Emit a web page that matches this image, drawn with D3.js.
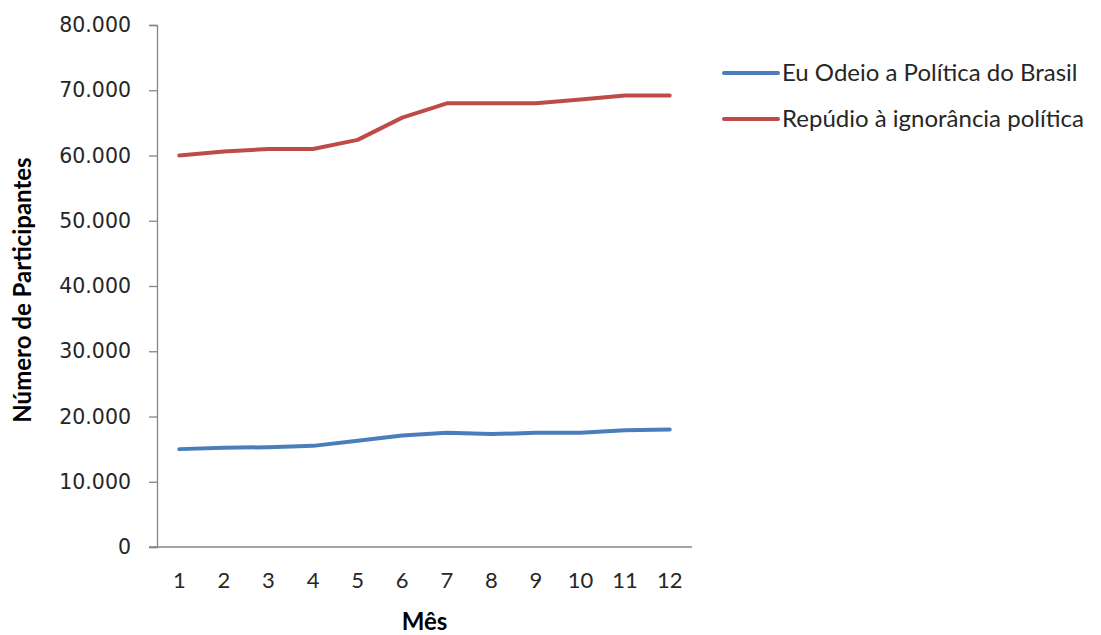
<!DOCTYPE html>
<html>
<head>
<meta charset="utf-8">
<script src="https://cdn.jsdelivr.net/npm/d3@7"></script>
<style>
  html, body { margin: 0; padding: 0; background: #fff; }
  svg { display: block; }
</style>
</head>
<body>
<svg id="chart" width="1101" height="635"></svg>
<script>
// Monthly participant counts for two groups
const months = ["1", "2", "3", "4", "5", "6", "7", "8", "9", "10", "11", "12"];
const odeioValues = [15000, 15200, 15300, 15500, 16300, 17100, 17500, 17300, 17500, 17500, 17900, 18000];
const repudioValues = [60000, 60600, 61000, 61000, 62400, 65800, 68000, 68000, 68000, 68600, 69200, 69200];
const seriesNames = ["Eu Odeio a Política do Brasil", "Repúdio à ignorância política"];
const seriesColors = ["#4A7EBB", "#BE4B48"];
const yTicks = [0, 10000, 20000, 30000, 40000, 50000, 60000, 70000, 80000];

const series = [
  { name: seriesNames[0], color: seriesColors[0], values: odeioValues },
  { name: seriesNames[1], color: seriesColors[1], values: repudioValues }
];

const svg = d3.select("#chart");
const plot = { left: 157, right: 692, top: 25, bottom: 547 };
const axisColor = "#868686";
const font = "Lato, 'Open Sans', sans-serif";

const x = d3.scaleBand().domain(months).range([plot.left, plot.right]);
const y = d3.scaleLinear().domain([0, 80000]).range([plot.bottom, plot.top]);

const fmt = v => v === 0 ? "0" : d3.format(",")(v).replace(/,/g, ".");

// Vertical axis
const yAxis = svg.append("g")
  .attr("transform", `translate(${plot.left},0)`)
  .call(d3.axisLeft(y).tickValues(yTicks).tickSize(8).tickPadding(18).tickFormat(fmt));
yAxis.select(".domain").attr("stroke", axisColor).attr("stroke-width", 1.3);
yAxis.selectAll(".tick line").attr("stroke", axisColor).attr("stroke-width", 1.3);
yAxis.selectAll(".tick text")
  .attr("fill", "#262626")
  .style("font-family", "'DejaVu Sans', sans-serif")
  .style("font-size", "20.5px");

// Horizontal axis
const xAxis = svg.append("g")
  .attr("transform", `translate(0,${plot.bottom})`)
  .call(d3.axisBottom(x).tickSize(0).tickPadding(25));
xAxis.select(".domain").remove();
xAxis.append("line")
  .attr("x1", plot.left - 8).attr("x2", plot.right)
  .attr("stroke", axisColor).attr("stroke-width", 1.3);
xAxis.selectAll(".tick text")
  .attr("fill", "#262626")
  .style("font-family", font)
  .style("font-size", "22px");

// Axis titles
svg.append("text")
  .attr("x", (plot.left + plot.right) / 2)
  .attr("y", 630)
  .attr("text-anchor", "middle")
  .style("font-family", font)
  .style("font-weight", "bold")
  .style("font-size", "24px")
  .attr("fill", "#000")
  .text("Mês");

svg.append("text")
  .attr("transform", `translate(31,${(plot.top + plot.bottom) / 2 + 4}) rotate(-90)`)
  .attr("text-anchor", "middle")
  .style("font-family", font)
  .style("font-weight", "bold")
  .style("font-size", "24px")
  .attr("fill", "#000")
  .text("Número de Participantes");

// Series lines
const line = d3.line()
  .x((d, i) => x(months[i]) + x.bandwidth() / 2)
  .y(d => y(d));

svg.append("g").selectAll("path")
  .data(series)
  .join("path")
  .attr("d", d => line(d.values))
  .attr("fill", "none")
  .attr("stroke", d => d.color)
  .attr("stroke-width", 4)
  .attr("stroke-linejoin", "round")
  .attr("stroke-linecap", "round");

// Legend
const legend = svg.append("g").attr("transform", "translate(724,73)");
const item = legend.selectAll("g")
  .data(series)
  .join("g")
  .attr("transform", (d, i) => `translate(0,${i * 46})`);
item.append("line")
  .attr("x1", 0).attr("x2", 54)
  .attr("stroke", d => d.color)
  .attr("stroke-width", 4)
  .attr("stroke-linecap", "round");
item.append("text")
  .attr("x", 58)
  .attr("dy", "0.35em")
  .style("font-family", font)
  .style("font-size", "24px")
  .attr("fill", "#262626")
  .text(d => d.name);
</script>
</body>
</html>
